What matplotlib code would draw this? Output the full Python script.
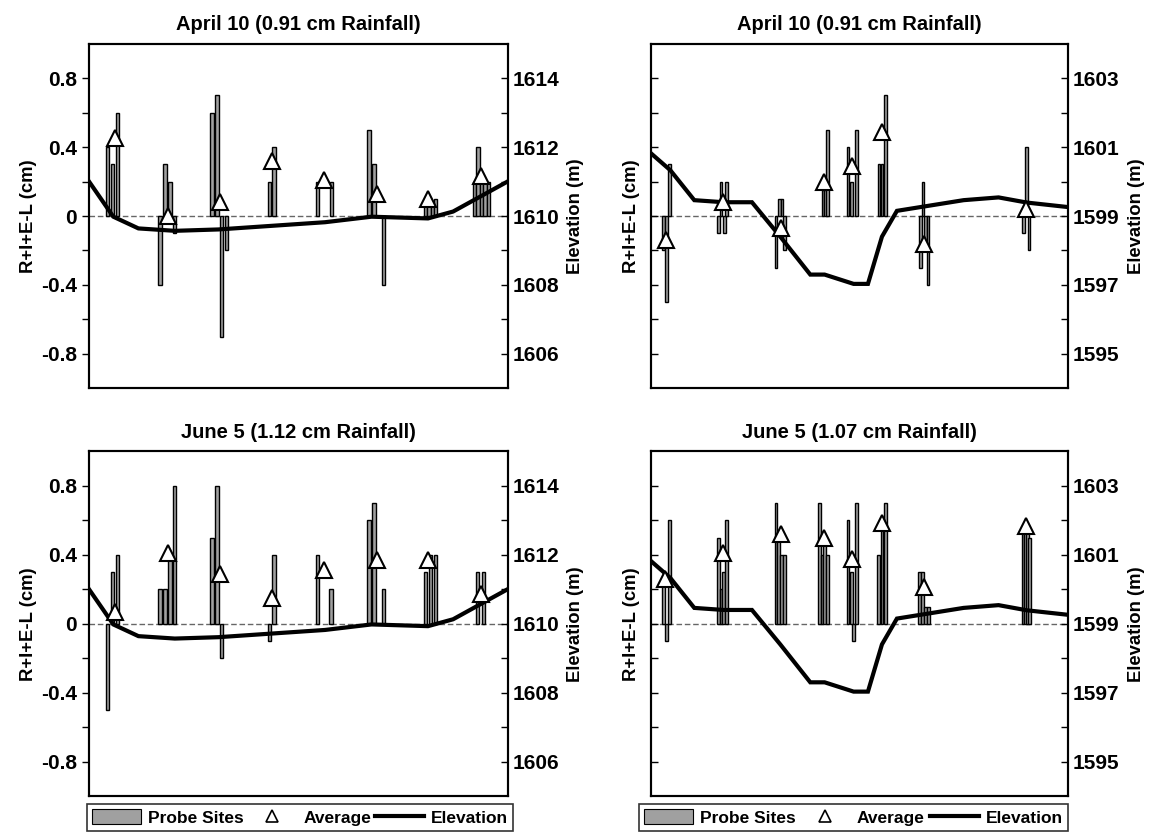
import matplotlib.pyplot as plt
from matplotlib.patches import Patch
from matplotlib.lines import Line2D

plt.rcParams['font.family'] = ['Liberation Sans', 'DejaVu Sans']
plt.rcParams['font.weight'] = 'bold'

# positions along the transect (0-100 % of plot width)
# --- transect A (left panels) ---
elevA_x = [0, 5.8, 11.8, 20.5, 30.9, 56.4, 67.5, 81.0, 87.0, 100]
elevA = [1611.0, 1609.98, 1609.64, 1609.57, 1609.61, 1609.82, 1609.98, 1609.93, 1610.13, 1611.0]

# April 10, transect A
aprA_x = [4.46, 5.65, 6.77, 16.96, 18.15, 19.35, 20.38, 29.38, 30.57, 31.69, 32.88,
          43.07, 44.19, 54.54, 57.96, 66.88, 68.07, 70.30,
          80.41, 81.21, 82.01, 82.80, 92.04, 92.99, 93.79, 94.59, 95.38]
aprA = [0.4, 0.3, 0.6, -0.4, 0.3, 0.2, -0.1, 0.6, 0.7, -0.7, -0.2,
        0.2, 0.4, 0.2, 0.2, 0.5, 0.3, -0.4,
        0.08, 0.08, 0.08, 0.1, 0.2, 0.4, 0.2, 0.2, 0.2]
aprA_avg_x = [6.21, 18.79, 31.29, 43.63, 56.21, 68.71, 81.05, 93.63]
aprA_avg = [0.45, 0.0, 0.08, 0.32, 0.21, 0.13, 0.10, 0.23]

# June 5, transect A
junA_x = [4.46, 5.65, 6.77, 16.96, 18.15, 19.35, 20.38, 29.38, 30.57, 31.69,
          43.07, 44.19, 54.54, 57.80, 66.88, 68.07, 70.30,
          80.41, 81.61, 82.80, 92.83, 94.19]
junA = [-0.5, 0.3, 0.4, 0.2, 0.2, 0.37, 0.8, 0.5, 0.8, -0.2,
        -0.1, 0.4, 0.4, 0.2, 0.6, 0.7, 0.2,
        0.3, 0.4, 0.4, 0.3, 0.3]
junA_avg_x = [6.21, 18.79, 31.29, 43.63, 56.21, 68.87, 81.05, 93.63]
junA_avg = [0.07, 0.41, 0.29, 0.15, 0.31, 0.37, 0.37, 0.17]

# --- transect B (right panels) ---
elevB_x = [0, 4.64, 10.39, 17.43, 24.22, 31.02, 38.21, 41.65, 48.60, 52.04,
           55.40, 58.99, 74.98, 83.37, 90.17, 100]
elevB = [1600.82, 1600.33, 1599.46, 1599.4, 1599.4, 1598.4, 1597.3, 1597.3, 1597.03, 1597.03,
         1598.4, 1599.15, 1599.46, 1599.54, 1599.39, 1599.26]

aprB_x = [3.04, 3.68, 4.40, 16.23, 16.79, 17.59, 18.15, 29.98, 30.78, 31.41, 31.97,
          41.25, 41.81, 42.37, 47.24, 48.04, 49.24, 54.68, 55.40, 56.20,
          64.59, 65.23, 65.79, 66.43, 89.37, 90.01, 90.65]
aprB = [-0.2, -0.5, 0.3, -0.1, 0.2, -0.1, 0.2, -0.3, 0.1, 0.1, -0.2,
        0.15, 0.15, 0.5, 0.4, 0.2, 0.5, 0.3, 0.3, 0.7,
        -0.3, 0.2, -0.2, -0.4, -0.1, 0.4, -0.2]
aprB_avg_x = [3.68, 17.27, 31.18, 41.41, 48.28, 55.40, 65.55, 89.85]
aprB_avg = [-0.14, 0.08, -0.07, 0.195, 0.29, 0.485, -0.165, 0.04]

junB_x = [3.04, 3.68, 4.40, 16.15, 16.79, 17.43, 18.15, 29.98, 30.62, 31.25, 31.97,
          40.37, 41.01, 41.65, 42.37, 47.24, 48.04, 48.60, 49.24, 54.60, 55.40, 56.20,
          64.43, 65.07, 65.79, 66.59, 89.21, 89.77, 90.33, 90.81]
junB = [0.22, -0.1, 0.6, 0.5, 0.2, 0.3, 0.6, 0.7, 0.5, 0.4, 0.4,
        0.7, 0.4, 0.5, 0.4, 0.6, 0.3, -0.1, 0.7, 0.4, 0.6, 0.7,
        0.3, 0.3, 0.1, 0.1, 0.55, 0.55, 0.55, 0.5]
junB_avg_x = [3.44, 17.27, 31.18, 41.41, 48.28, 55.40, 65.55, 89.85]
junB_avg = [0.26, 0.41, 0.52, 0.50, 0.375, 0.585, 0.213, 0.57]

titles = ['April 10 (0.91 cm Rainfall)', 'April 10 (0.91 cm Rainfall)',
          'June 5 (1.12 cm Rainfall)', 'June 5 (1.07 cm Rainfall)']

fig = plt.figure(figsize=(11.55, 8.35), dpi=100)

rects = [[0.0771, 0.535, 0.3623, 0.4126], [0.5636, 0.535, 0.3610, 0.4126],
         [0.0771, 0.0467, 0.3623, 0.4126], [0.5636, 0.0467, 0.3610, 0.4126]]
panels = [(aprA_x, aprA, aprA_avg_x, aprA_avg, elevA_x, elevA, 1610, 0.8),
          (aprB_x, aprB, aprB_avg_x, aprB_avg, elevB_x, elevB, 1599, 0.62),
          (junA_x, junA, junA_avg_x, junA_avg, elevA_x, elevA, 1610, 0.8),
          (junB_x, junB, junB_avg_x, junB_avg, elevB_x, elevB, 1599, 0.62)]

bar_col = '#a0a0a0'
fs = 12.5      # legend
fs_lab = 13.3
fs_tick = 15
fs_title = 14.5

for i, (bx, bv, ax_, av, ex, ev, mid, bw) in enumerate(panels):
    ax = fig.add_axes(rects[i])
    ax.bar(bx, bv, width=bw, color=bar_col, edgecolor='black', linewidth=1.0, zorder=2)
    ax.axhline(0, color='0.4', lw=1.0, ls=(0, (4, 2)), zorder=1)
    ax.set_xlim(0, 100)
    ax.set_ylim(-1, 1)
    ax.set_xticks([])
    ax.set_yticks([-0.8, -0.4, 0, 0.4, 0.8])
    ax.set_yticklabels(['-0.8', '-0.4', '0', '0.4', '0.8'])
    ax.set_yticks([-0.6, -0.2, 0.2, 0.6], minor=True)
    left = (i % 2 == 0)
    ax.tick_params(axis='y', which='both', direction='out' if left else 'in',
                   length=5, width=1, labelsize=fs_tick, labelleft=left)
    ax.set_ylabel('R+I+E-L (cm)', fontsize=fs_lab, fontweight='bold',
                  labelpad=3 if left else 8)
    ax.set_title(titles[i], fontsize=fs_title, fontweight='bold', pad=10)
    for s in ax.spines.values():
        s.set_linewidth(1.5)

    ax2 = ax.twinx()
    ax2.plot(ex, ev, color='black', lw=3, zorder=3, solid_joinstyle='miter')
    ax2.plot(ax_, av, transform=ax.transData, linestyle='none', marker='^',
             markersize=12, markerfacecolor='white', markeredgecolor='black',
             markeredgewidth=1.5, zorder=4)
    ax2.set_xlim(0, 100)
    ax2.set_ylim(mid - 5, mid + 5)
    ax2.set_yticks([mid - 4, mid - 2, mid, mid + 2, mid + 4])
    ax2.set_yticks([mid - 3, mid - 1, mid + 1, mid + 3], minor=True)
    ax2.tick_params(axis='y', which='both', direction='in', length=5, width=1,
                    labelsize=fs_tick)
    ax2.set_ylabel('Elevation (m)', fontsize=fs_lab, fontweight='bold', labelpad=6)
    for s in ax2.spines.values():
        s.set_linewidth(1.5)

handles = [Patch(facecolor=bar_col, edgecolor='black', linewidth=0.8),
           Line2D([], [], linestyle='none', marker='^', markersize=9,
                  markerfacecolor='white', markeredgecolor='black', markeredgewidth=1.2),
           Line2D([], [], color='black', lw=3)]
labels = ['Probe Sites', 'Average', 'Elevation']
for x0, w in [(0.0753, 0.3688), (0.5532, 0.3714)]:
    leg = fig.legend(handles, labels, loc='lower left', bbox_to_anchor=(x0, 0.005, w, 0.035),
                     mode='expand', ncol=3, fontsize=fs, frameon=True, fancybox=False,
                     borderaxespad=0, borderpad=0.3, handlelength=2.8, handleheight=1.0,
                     handletextpad=0.4, columnspacing=0.8)
    leg.get_frame().set_edgecolor('black')
    leg.get_frame().set_linewidth(1.2)
    for t in leg.get_texts():
        t.set_fontweight('bold')

fig.savefig('out.png', dpi=100)
